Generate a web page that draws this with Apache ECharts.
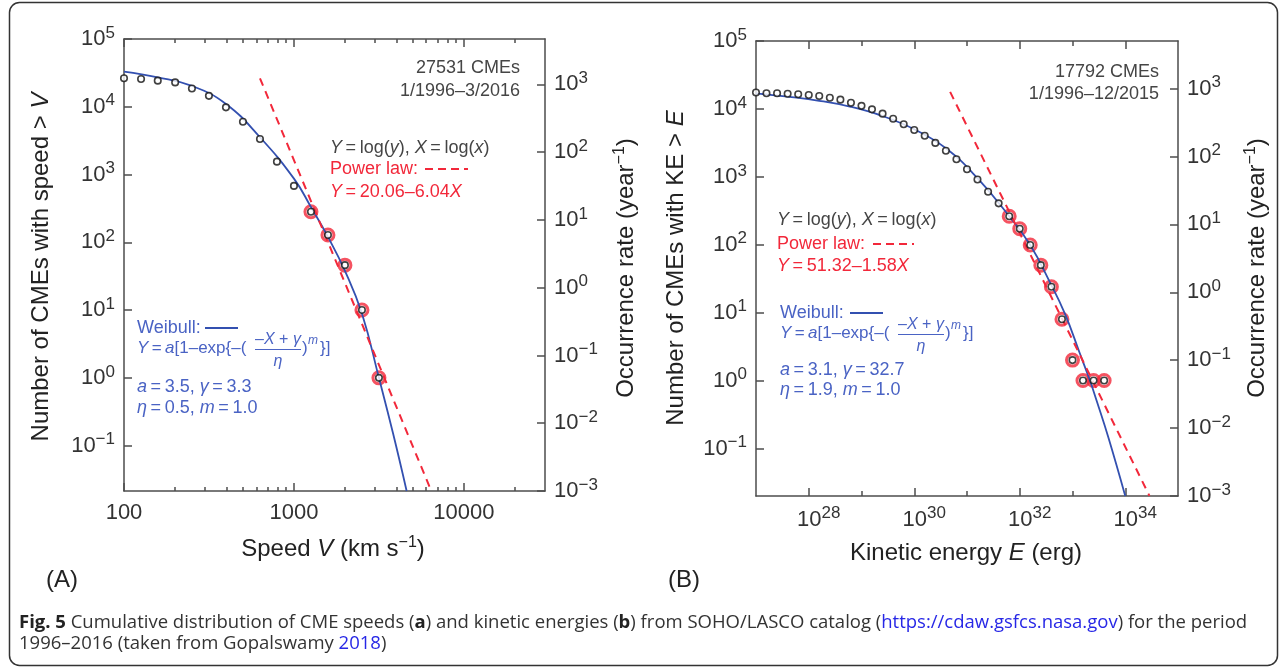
<!DOCTYPE html>
<html>
<head>
<meta charset="utf-8">
<script src="https://cdn.jsdelivr.net/npm/echarts@6/dist/echarts.min.js"></script>
<style>html,body{margin:0;padding:0;background:#fff}#c{width:1281px;height:668px}</style>
</head>
<body>
<div id="c"></div>
<script>
// ---------- Panel A : CME speeds ----------
const speedA = [100,126,158,200,251,316,398,501,631,794,1000,1259,1585,1995,2512,3162];
const countA = [26300,25700,24300,22900,18600,14500,9800,6000,3350,1550,680,282,128,46,10,1];
const fitStartA = 11;
const weibullSpeedA = [100,158,251,398,631,1000,1259,1585,1995,2512,3162,3837,4603];
const weibullCountA = [33100,27200,20300,11000,3550,870,331,120,38,8.9,1.0,0.148,0.0214];
const powerSpeedA = [631,6430];
const powerCountA = [26300,0.0214];
const speedMajorTicksA = [100,1000,10000];
const speedMinorTicksA = [200,300,400,500,600,700,800,900,2000,3000,4000,5000,6000,7000,8000,9000,20000];

// ---------- Panel B : CME kinetic energies ----------
const energyB = [1e27,1.58e27,2.51e27,3.98e27,6.31e27,1e28,1.58e28,2.51e28,3.98e28,6.31e28,
                 1e29,1.58e29,2.51e29,3.98e29,6.31e29,1e30,1.58e30,2.51e30,3.98e30,6.31e30,
                 1e31,1.58e31,2.51e31,3.98e31,6.31e31,1e32,1.58e32,2.51e32,3.98e32,6.31e32,
                 1e33,1.58e33,2.51e33,3.98e33];
const countB = [17400,17000,17000,16750,16400,16000,15500,14600,13700,12300,
                11100,9860,8510,7180,5930,4900,4030,3160,2420,1810,
                1290,912,603,407,263,172,99,50,24,8,
                2,1,1,1];
const fitStartB = 24;
const weibullEnergyB = [1e27,3.98e27,1.58e28,6.31e28,2.51e29,1e30,3.98e30,1.58e31,6.31e31,1.58e32,3.72e32,7.24e32,1.38e33,2.14e33,2.88e33,4.79e33,1e34];
const weibullCountB = [16980,15140,13180,10720,7850,5010,2630,955,263,98.9,28.2,9.5,2.5,1.0,0.5,0.145,0.02];
const powerEnergyB = [4.79e30,2.88e34];
const powerCountB = [17800,0.02];
const energyMajorTicksB = [1e28,1e30,1e32,1e34];
const energyMinorTicksB = [1e29,1e31,1e33];

// ---------- shared tick values ----------
const countTicks = [0.1,1,10,100,1000,10000,100000];
const rateTicks = [0.001,0.01,0.1,1,10,100,1000];

const L = Math.log10;
const FONT = '"Liberation Sans", Arial, Helvetica, sans-serif';
const CAPFONT = '"Open Sans", "Noto Sans", sans-serif';
const AXC = '#4d4d4d';
const LBL = '#333';
const BLUE = '#3350b0';
const WTXT = '#4a63c4';
const RED = '#f2283a';
const GREY = '#454545';

function supStr(v){ const e = Math.round(v); return e < 0 ? '\u2212' + (-e) : String(e); }
const powRich = {
  n:{fontSize:22, fontFamily:FONT, color:LBL},
  s:{fontSize:17, fontFamily:FONT, color:LBL, padding:[0,0,12,0]}
};
const powFmt = v => '{n|10}{s|' + supStr(v) + '}';

function xa(grid, pos, min, max, ticks, len, showLine, label){
  return {
    type:'value', gridIndex:grid, position:pos, min:min, max:max,
    axisLine:{show:showLine, onZero:false, lineStyle:{color:AXC, width:1.5}},
    axisTick:{show:true, inside:true, length:len, customValues:ticks.map(L), lineStyle:{color:AXC, width:1.5}},
    axisLabel: label || {show:false},
    splitLine:{show:false}
  };
}
function ya(grid, pos, min, max, ticks, label){
  return {
    type:'value', gridIndex:grid, position:pos, min:min, max:max,
    axisLine:{show:true, onZero:false, lineStyle:{color:AXC, width:1.5}},
    axisTick:{show:true, inside:true, length:8, customValues:ticks.map(L), lineStyle:{color:AXC, width:1.5}},
    axisLabel: label,
    splitLine:{show:false}
  };
}

const xAxes = [
  // A
  xa(0,'bottom',L(100),L(30000),speedMajorTicksA,8,true,{
    show:true, customValues:speedMajorTicksA.map(L), margin:11,
    formatter: v => String(Math.round(Math.pow(10,v))),
    fontSize:22, fontFamily:FONT, color:LBL}),
  xa(0,'bottom',L(100),L(30000),speedMinorTicksA,4,false),
  xa(0,'top',L(100),L(30000),speedMajorTicksA,8,true),
  xa(0,'top',L(100),L(30000),speedMinorTicksA,4,false),
  // B
  xa(1,'bottom',27,35,energyMajorTicksB,8,true,{
    show:true, customValues:energyMajorTicksB.map(L), margin:9,
    formatter: powFmt, rich: powRich, padding:[0,0,0,20]}),
  xa(1,'bottom',27,35,energyMinorTicksB,5,false),
  xa(1,'top',27,35,energyMajorTicksB,8,true),
  xa(1,'top',27,35,energyMinorTicksB,5,false)
];
const yAxes = [
  ya(0,'left',-1.67,5,countTicks,{show:true, customValues:countTicks.map(L), formatter:powFmt, rich:powRich, margin:9}),
  ya(0,'right',-3,3.67,rateTicks,{show:true, customValues:rateTicks.map(L), formatter:powFmt, rich:powRich, margin:9}),
  ya(1,'left',-1.7,5,countTicks,{show:true, customValues:countTicks.map(L), formatter:powFmt, rich:powRich, margin:9}),
  ya(1,'right',-3,3.7,rateTicks,{show:true, customValues:rateTicks.map(L), formatter:powFmt, rich:powRich, margin:9})
];

function pts(xs, ys){ return xs.map((x,i)=>[L(x), L(ys[i])]); }

function panelSeries(xi, yi, xs, ys, fitStart, wx, wy, px, py){
  return [
    {type:'scatter', xAxisIndex:xi, yAxisIndex:yi, data:pts(xs.slice(fitStart), ys.slice(fitStart)),
     symbol:'circle', symbolSize:12, itemStyle:{color:'rgba(255,255,255,0)', borderColor:RED, borderWidth:3}, z:2, silent:true},
    {type:'line', xAxisIndex:xi, yAxisIndex:yi, data:pts(wx, wy), showSymbol:false, smooth:0.45,
     lineStyle:{color:BLUE, width:1.8}, z:3, silent:true},
    {type:'line', xAxisIndex:xi, yAxisIndex:yi, data:pts(px, py), showSymbol:false,
     lineStyle:{color:RED, width:2, type:[8,6]}, z:3, silent:true},
    {type:'scatter', xAxisIndex:xi, yAxisIndex:yi, data:pts(xs, ys),
     symbol:'circle', symbolSize:6.5, itemStyle:{color:'#fff', borderColor:'#111', borderWidth:1.6}, z:5, silent:true}
  ];
}

const series = [].concat(
  panelSeries(0, 0, speedA, countA, fitStartA, weibullSpeedA, weibullCountA, powerSpeedA, powerCountA),
  panelSeries(4, 2, energyB, countB, fitStartB, weibullEnergyB, weibullCountB, powerEnergyB, powerCountB)
);

// ---------- graphic text helpers ----------
function rs(size, color, extra, fam){ return Object.assign({fontSize:size, fontFamily:fam||FONT, fill:color}, extra || {}); }
function T(x, y, text, size, color, align, rich, extra, fam){
  return Object.assign({type:'text', x:x, y:y, silent:true, style:{
    text:text, fontSize:size, fontFamily:fam||FONT, fill:color,
    align:align||'left', verticalAlign:'middle', textAlign:align||'left', textVerticalAlign:'middle',
    rich:rich||{}}}, extra||{});
}
const AS = 18; // annotation font size
function annRich(color){
  return { r: rs(AS, color), i: rs(AS, color, {fontStyle:'italic'}) };
}
const TS = '\u2009';
function weibullFormula(x0, y0){
  const rich = {i: rs(17, WTXT, {fontStyle:'italic'})};
  const ri = {i: rs(16, WTXT, {fontStyle:'italic'})};
  return {type:'group', x:x0, y:y0, children:[
    T(0, 0, '{i|Y}'+TS+'='+TS+'{i|a}[1\u2013exp{\u2013(', 17, WTXT, 'left', rich),
    T(141, -8, '\u2013{i|X} + {i|\u03b3}', 16, WTXT, 'center', ri),
    {type:'line', silent:true, shape:{x1:118, y1:1.5, x2:164, y2:1.5}, style:{stroke:WTXT, lineWidth:1}},
    T(141, 14, '{i|\u03b7}', 16, WTXT, 'center', ri),
    T(165, 0, ')', 17, WTXT, 'left'),
    T(171, -7, '{i|m}', 12, WTXT, 'left', {i: rs(12, WTXT, {fontStyle:'italic'})}),
    T(183, 0, '}]', 17, WTXT, 'left')
  ]};
}
function panelText(o){
  const gr = annRich(GREY), rr = annRich(RED), wr = annRich(WTXT);
  return [
    T(o.cx, o.c1y, o.c1, AS, GREY, 'right'),
    T(o.cx, o.c2y, o.c2, AS, GREY, 'right'),
    T(o.px, o.p0y, '{i|Y}'+TS+'='+TS+'log({i|y}), {i|X}'+TS+'='+TS+'log({i|x})', AS, GREY, 'left', gr),
    T(o.px, o.p1y, 'Power law:', AS, RED, 'left', rr),
    {type:'line', silent:true, shape:{x1:o.pd1, y1:o.p1y, x2:o.pd2, y2:o.p1y}, style:{stroke:RED, lineWidth:2.2, lineDash:[8,5]}},
    T(o.px, o.p2y, o.pl, AS, RED, 'left', rr),
    T(o.wx, o.w0y, 'Weibull:', AS, WTXT, 'left', wr),
    {type:'line', silent:true, shape:{x1:o.wl1, y1:o.w0y, x2:o.wl2, y2:o.w0y}, style:{stroke:BLUE, lineWidth:2}},
    weibullFormula(o.wx, o.w1y),
    T(o.wx, o.w2y, o.w2, AS, WTXT, 'left', wr),
    T(o.wx, o.w3y, o.w3, AS, WTXT, 'left', wr)
  ];
}

const NS = 24;
const nameRich = {
  r: rs(NS, '#222'), i: rs(NS, '#222', {fontStyle:'italic'}),
  s: rs(16, '#222', {padding:[0,0,12,0]})
};
const capRich = {
  b: rs(18.5, '#222', {fontWeight:'bold'}, CAPFONT),
  l: rs(18.5, '#2727e6', {}, CAPFONT)
};

const graphics = [
  {type:'rect', silent:true, shape:{x:9.5, y:2.5, width:1268, height:663, r:10}, style:{fill:'none', stroke:'#333', lineWidth:1.5}},
  // axis names A
  T(41, 267, 'Number of CMEs with speed > {i|V}', NS, '#222', 'center', nameRich, {rotation:Math.PI/2}),
  T(626, 268, 'Occurrence rate (year{s|\u22121})', NS, '#222', 'center', nameRich, {rotation:Math.PI/2}),
  T(333, 549, 'Speed {i|V} (km s{s|\u22121})', NS, '#222', 'center', nameRich),
  T(62, 580, '(A)', NS, '#222', 'center', nameRich),
  // axis names B
  T(676, 268, 'Number of CMEs with KE > {i|E}', NS, '#222', 'center', nameRich, {rotation:Math.PI/2}),
  T(1257, 268, 'Occurrence rate (year{s|\u22121})', NS, '#222', 'center', nameRich, {rotation:Math.PI/2}),
  T(966, 553, 'Kinetic energy {i|E} (erg)', NS, '#222', 'center', nameRich),
  T(684, 580, '(B)', NS, '#222', 'center', nameRich),
  // caption
  T(19, 623, '{b|Fig. 5} Cumulative distribution of CME speeds ({b|a}) and kinetic energies ({b|b}) from SOHO/LASCO catalog ({l|https://cdaw.gsfcs.nasa.gov}) for the period',
    18.5, '#333', 'left', capRich, {}, CAPFONT),
  T(19, 644, '1996\u20132016 (taken from Gopalswamy {l|2018})', 18.5, '#333', 'left', capRich, {}, CAPFONT)
].concat(
  panelText({cx:520, c1y:68, c2y:91, c1:'27531 CMEs', c2:'1/1996\u20133/2016',
    px:330, p0y:148, p1y:169, pd1:425, pd2:468, p2y:192, pl:'{i|Y}'+TS+'='+TS+'20.06\u20136.04{i|X}',
    wx:137, w0y:328, wl1:205, wl2:238, w1y:348, w2y:387, w3y:408,
    w2:'{i|a}'+TS+'='+TS+'3.5, {i|\u03b3}'+TS+'='+TS+'3.3', w3:'{i|\u03b7}'+TS+'='+TS+'0.5, {i|m}'+TS+'='+TS+'1.0'}),
  panelText({cx:1159, c1y:72, c2y:94, c1:'17792 CMEs', c2:'1/1996\u201312/2015',
    px:777, p0y:220, p1y:244, pd1:873, pd2:914, p2y:266, pl:'{i|Y}'+TS+'='+TS+'51.32\u20131.58{i|X}',
    wx:780, w0y:313, wl1:850, wl2:883, w1y:333, w2y:370, w3y:390,
    w2:'{i|a}'+TS+'='+TS+'3.1, {i|\u03b3}'+TS+'='+TS+'32.7', w3:'{i|\u03b7}'+TS+'='+TS+'1.9, {i|m}'+TS+'='+TS+'1.0'})
);

const chart = echarts.init(document.getElementById('c'), null, {renderer:'canvas'});
chart.setOption({
  backgroundColor:'#fff',
  animation:false,
  grid:[
    {left:124, top:39, width:421, height:452, containLabel:false},
    {left:756, top:41, width:422, height:455, containLabel:false}
  ],
  xAxis:xAxes,
  yAxis:yAxes,
  series:series,
  graphic:{elements:graphics}
});
</script>
</body>
</html>
